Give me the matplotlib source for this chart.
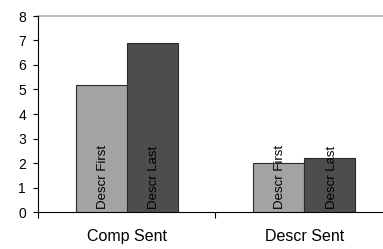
import matplotlib
matplotlib.use("Agg")
import matplotlib.pyplot as plt
import numpy as np

plt.rcParams['font.family'] = ['Liberation Sans', 'DejaVu Sans']

categories = ['Comp Sent', 'Descr Sent']
series = ['Descr First', 'Descr Last']
descr_first = [5.2, 2.0]
descr_last = [6.9, 2.2]
colors = ['#a3a3a3', '#4d4d4d']

fig = plt.figure(figsize=(3.83, 2.49), dpi=100)
ax = fig.add_axes([38 / 383, 37 / 249, 355 / 383, 196 / 249])

x = np.arange(len(categories))
w = 0.288
for vals, name, col, off in [(descr_first, series[0], colors[0], -w / 2),
                             (descr_last, series[1], colors[1], w / 2)]:
    ax.bar(x + off, vals, width=w, color=col, edgecolor='#2a2a2a', linewidth=0.8, zorder=3)
    for xi, v in zip(x, vals):
        ax.text(xi + off + 0.01, 0.12, name, rotation=90, ha='center', va='bottom',
                fontsize=9.5, color='black', zorder=4)

ax.set_xlim(-0.5, 1.5)
ax.set_ylim(0, 8)
ax.set_yticks(range(0, 9))
ax.axhline(8, color='#c0c0c0', linewidth=1.5, zorder=1, clip_on=False)

ax.set_xticks([-0.5, 0.5, 1.5])
ax.set_xticklabels([])
ax.set_xticks(x, minor=True)
ax.set_xticklabels(categories, minor=True, fontsize=11.5)
ax.tick_params(axis='x', which='minor', length=0, pad=12)
ax.tick_params(axis='x', which='major', length=4, direction='out', width=0.8)
ax.tick_params(axis='y', length=3.6, direction='out', width=0.8, labelsize=10, pad=5)

for s in ['top', 'right']:
    ax.spines[s].set_visible(False)
for s in ['left', 'bottom']:
    ax.spines[s].set_linewidth(0.8)

fig.savefig('out.png', dpi=100)
